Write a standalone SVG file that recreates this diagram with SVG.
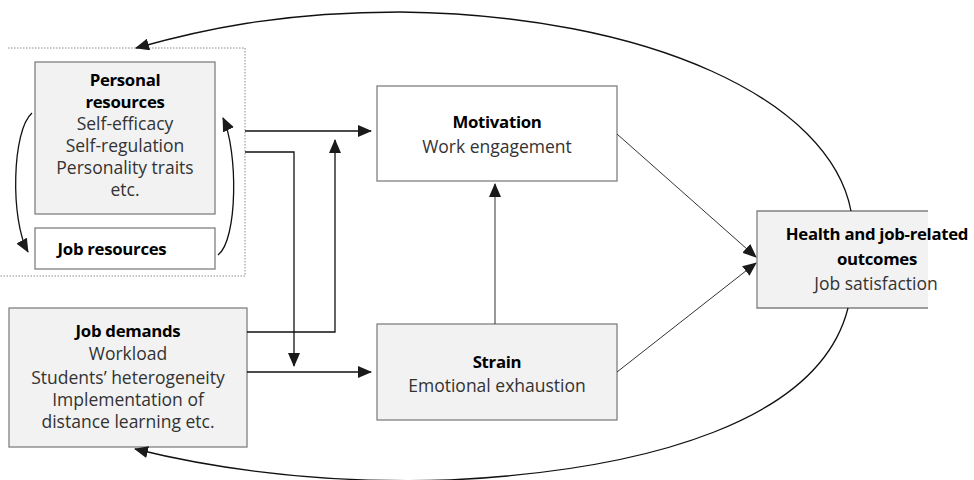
<svg xmlns="http://www.w3.org/2000/svg" width="974" height="480" viewBox="0 0 974 480">
<defs>
<marker id="ah" markerWidth="14" markerHeight="12" refX="13" refY="6" orient="auto" markerUnits="userSpaceOnUse">
<path d="M0,0 L14,6 L0,12 Z" fill="#1a1a1a"/>
</marker>
<style>
.box{stroke:#808080;stroke-width:1.3}
.g{fill:#f2f2f2}
.w{fill:#ffffff}
text{font-family:"Open Sans",Lato,sans-serif;font-size:17.5px;text-anchor:middle}
.b{font-weight:bold;fill:#000;font-size:16.8px;letter-spacing:-0.3px}
.r{fill:#333}
.c{fill:none;stroke:#111;stroke-width:1.3}
.d{fill:none;stroke:#333;stroke-width:1}
</style>
</defs>
<rect width="974" height="480" fill="#fff"/>
<g id="resources-frame">
<path d="M8,48 H245 V276 H0" fill="none" stroke="#888" stroke-width="1" stroke-dasharray="1.5,1.5"/>
</g>
<g id="personal-resources">
<rect class="box g" x="35" y="62" width="180" height="152"/>
<text class="b" x="125" y="86">Personal</text>
<text class="b" x="125" y="108">resources</text>
<text class="r" x="125" y="130">Self-efficacy</text>
<text class="r" x="125" y="152">Self-regulation</text>
<text class="r" x="125" y="174">Personality traits</text>
<text class="r" x="125" y="196">etc.</text>
</g>
<g id="job-resources">
<rect class="box w" x="35" y="228" width="180" height="41"/>
<text class="b" x="112" y="255">Job resources</text>
</g>
<g id="job-demands">
<rect class="box g" x="9" y="308" width="238" height="139"/>
<text class="b" x="128" y="337">Job demands</text>
<text class="r" x="128" y="360">Workload</text>
<text class="r" x="128" y="384">Students’ heterogeneity</text>
<text class="r" x="128" y="406">Implementation of</text>
<text class="r" x="128" y="428">distance learning etc.</text>
</g>
<g id="motivation">
<rect class="box w" x="377" y="86" width="240" height="95"/>
<text class="b" x="497" y="128">Motivation</text>
<text class="r" x="497" y="153">Work engagement</text>
</g>
<g id="strain">
<rect class="box g" x="377" y="324" width="240" height="96"/>
<text class="b" x="497" y="368">Strain</text>
<text class="r" x="497" y="392">Emotional exhaustion</text>
</g>
<g id="outcomes">
<rect x="757" y="211" width="171" height="97" fill="#f2f2f2"/>
<path d="M928,211 H757 V308 H928" fill="none" stroke="#808080" stroke-width="1.3"/>
<text class="b" x="877" y="240">Health and job-related</text>
<text class="b" x="877" y="265">outcomes</text>
<text class="r" x="876" y="290">Job satisfaction</text>
</g>
<g id="connectors">
<path class="c" d="M32,113 C12,130 10,220 28,252" marker-end="url(#ah)"/>
<path class="c" d="M218,255 C238,240 238,150 223,118" marker-end="url(#ah)"/>
<path class="c" d="M245,131 H371" marker-end="url(#ah)"/>
<path class="c" d="M245,152 H294 V366" marker-end="url(#ah)"/>
<path class="c" d="M247,332 H335 V140" marker-end="url(#ah)"/>
<path class="c" d="M247,372 H371" marker-end="url(#ah)"/>
<path class="d" d="M495,324 V184" marker-end="url(#ah)" stroke="#555"/>
<path class="d" d="M617,134 L756,257" marker-end="url(#ah)"/>
<path class="d" d="M617,372 L756,263" marker-end="url(#ah)"/>
<path class="c" d="M851,211 C830,100 650,15 400,12 C280,12 200,30 136,48" marker-end="url(#ah)"/>
<path class="c" d="M848,308 C820,420 650,470 450,480 C320,484 220,470 135,449" marker-end="url(#ah)"/>
</g>
</svg>
